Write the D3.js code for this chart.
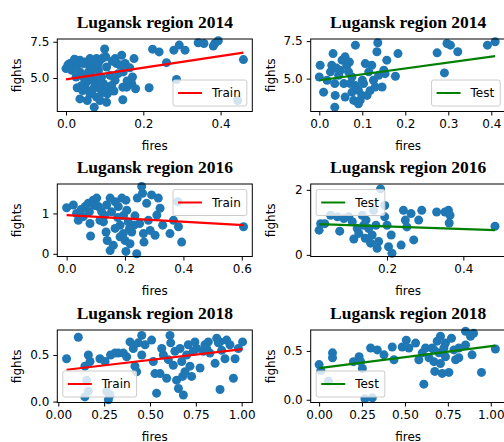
<!DOCTYPE html>
<html>
<head>
<meta charset="utf-8">
<script src="https://cdn.jsdelivr.net/npm/d3@7"></script>
<style>
body { margin: 0; background: #fff; }
text { font-family: "DejaVu Sans", sans-serif; }
</style>
</head>
<body>
<script>
// fires vs fights, Lugansk region
var train2014 = [[0.0,5.65],[0.01,6.0],[0.019,6.1],[0.028,5.88],[0.036,6.23],[0.015,5.53],[0.026,5.07],[0.029,4.33],
  [0.036,3.56],[0.055,3.45],[0.043,4.14],[0.049,6.1],[0.062,6.34],[0.071,6.23],[0.079,6.34],[0.088,6.23],[0.1,7.0],
  [0.103,6.46],[0.058,5.42],[0.069,4.84],[0.075,4.49],[0.084,5.53],[0.092,5.07],[0.097,4.6],[0.079,3.68],[0.073,2.99],
  [0.088,3.45],[0.105,3.33],[0.107,3.91],[0.105,4.37],[0.127,4.84],[0.131,6.0],[0.127,6.34],[0.144,6.57],[0.153,6.0],
  [0.148,5.42],[0.135,5.3],[0.147,4.37],[0.147,3.5],[0.157,4.37],[0.172,5.07],[0.176,6.34],[0.18,4.26],[0.17,4.6],
  [0.053,4.72],[0.045,5.07],[0.036,5.42],[0.06,5.88],[0.075,5.65],[0.105,5.76],[0.114,5.18],[0.118,4.49],[0.049,4.37],
  [0.041,4.49],[0.069,4.19],[0.088,4.26],[0.005,5.9],[0.022,6.3],[0.045,6.0],[0.066,6.05],[0.083,5.95],[0.096,6.4],
  [0.065,5.2],[0.082,4.9],[0.094,4.0],[0.062,3.9],[0.12,6.15],[0.14,5.9],[0.165,5.7],[0.158,4.8],[0.124,4.1],
  [0.215,4.33],[0.224,6.99],[0.241,6.8],[0.26,6.06],[0.279,6.92],[0.293,7.27],
  [0.308,6.92],[0.286,4.9],[0.342,7.43],[0.357,7.38],[0.381,7.2],[0.385,7.38],[0.394,7.57],[0.459,6.27],[0.444,3.45]];

var test2014 = [[0.0,5.11],[0.002,5.89],[0.01,4.1],[0.018,4.89],[0.026,5.45],[0.029,5.89],[0.032,6.67],[0.036,4.67],
  [0.037,3.88],[0.036,3.1],[0.045,5.22],[0.049,5.56],[0.053,6.23],[0.06,6.45],[0.064,5.89],[0.068,5.45],[0.057,4.67],
  [0.06,3.77],[0.072,4.67],[0.076,4.1],[0.08,3.55],[0.084,7.23],[0.084,4.55],[0.091,4.22],[0.095,3.55],[0.099,3.88],
  [0.103,4.67],[0.107,6.0],[0.111,3.88],[0.115,5.45],[0.122,5.89],[0.126,4.89],[0.13,4.44],[0.134,6.79],[0.136,7.39],
  [0.138,5.22],[0.146,4.44],[0.15,5.56],[0.157,6.23],[0.153,5.33],[0.177,5.16],[0.183,6.67],[0.091,3.33],[0.076,5.11],
  [0.04,5.7],[0.07,6.1],[0.1,4.9],[0.118,4.2],
  [0.274,6.72],[0.291,5.38],[0.297,7.34],[0.305,7.23],[0.322,6.79],[0.391,7.23],[0.409,7.46]];

var train2016 = [[0.0,1.14],[0.023,1.21],[0.034,1.0],[0.04,0.83],[0.057,0.92],[0.063,1.17],[0.074,1.25],[0.078,1.04],
  [0.08,0.75],[0.082,0.44],[0.091,1.33],[0.103,1.38],[0.109,1.17],[0.12,1.04],[0.114,0.83],[0.126,0.79],[0.137,1.21],
  [0.149,1.38],[0.154,1.04],[0.135,0.54],[0.139,0.33],[0.149,0.08],[0.16,0.21],[0.166,1.29],[0.177,1.17],[0.189,1.38],
  [0.203,1.33],[0.206,1.08],[0.183,0.71],[0.194,0.5],[0.2,0.33],[0.203,0.06],[0.217,0.25],[0.223,0.54],[0.231,0.71],
  [0.234,0.94],[0.24,0.0],[0.242,1.38],[0.257,1.67],[0.26,1.5],[0.265,0.29],[0.263,0.5],[0.28,0.83],[0.286,0.58],
  [0.291,1.46],[0.303,0.46],[0.309,0.96],[0.314,1.38],[0.32,1.13],[0.329,0.71],[0.354,0.5],[0.366,0.83],[0.381,1.29],
  [0.383,0.67],[0.394,0.29],[0.166,0.63],[0.183,0.42],[0.211,0.79],[0.274,1.25],[0.05,1.1],[0.095,1.2],[0.13,0.95],
  [0.175,0.9],[0.195,0.95],[0.215,0.62],[0.25,0.75],[0.606,0.67]];

var test2016 = [[0.022,0.76],[0.026,0.96],[0.037,0.96],[0.052,1.22],[0.07,1.17],[0.076,0.73],[0.087,1.12],[0.1,1.17],
  [0.109,1.02],[0.113,0.49],[0.122,0.81],[0.126,0.66],[0.135,1.22],[0.139,0.91],[0.143,0.51],[0.145,1.07],[0.152,0.81],
  [0.157,0.36],[0.161,0.61],[0.165,1.37],[0.171,0.91],[0.174,0.2],[0.178,0.41],[0.183,2.03],[0.194,1.52],[0.194,1.17],
  [0.2,0.91],[0.204,0.25],[0.211,0.61],[0.213,0.05],[0.237,0.3],[0.243,1.37],[0.248,1.07],[0.252,0.86],[0.263,1.27],
  [0.27,0.46],[0.283,1.07],[0.291,1.37],[0.33,1.32],[0.352,1.32],[0.361,1.37],[0.365,1.22],[0.363,0.98],[0.483,0.88]];

var train2018 = [[0.045,0.46],[0.109,0.69],[0.145,0.38],[0.164,0.5],[0.173,0.43],[0.155,0.23],[0.164,0.11],[0.145,0.05],
  [0.227,0.46],[0.255,0.43],[0.264,0.11],[0.282,0.07],[0.285,0.5],[0.273,0.02],[0.309,0.52],[0.327,0.52],[0.355,0.52],
  [0.373,0.48],[0.391,0.64],[0.409,0.57],[0.418,0.38],[0.427,0.32],[0.436,0.63],[0.455,0.71],[0.473,0.61],[0.455,0.5],
  [0.509,0.66],[0.518,0.43],[0.527,0.3],[0.536,0.09],[0.555,0.3],[0.564,0.57],[0.573,0.5],[0.591,0.25],[0.6,0.45],
  [0.609,0.71],[0.613,0.63],[0.627,0.39],[0.636,0.54],[0.645,0.23],[0.655,0.14],[0.664,0.57],[0.673,0.43],[0.678,0.27],
  [0.682,0.07],[0.691,0.32],[0.7,0.5],[0.709,0.61],[0.718,0.38],[0.727,0.27],[0.736,0.54],[0.745,0.64],[0.755,0.57],
  [0.773,0.36],[0.791,0.54],[0.8,0.61],[0.818,0.64],[0.827,0.52],[0.855,0.41],[0.864,0.68],[0.873,0.63],[0.882,0.13],
  [0.891,0.55],[0.909,0.46],[0.918,0.66],[0.936,0.61],[0.955,0.25],[0.964,0.46],[0.982,0.57],[1.005,0.64],[0.809,0.57],
  [0.882,0.64]];

var test2018 = [[0.0,0.36],[0.01,0.3],[0.054,0.19],[0.078,0.48],[0.078,0.43],[0.2,0.39],[0.233,0.44],[0.242,0.39],
  [0.252,0.32],[0.267,0.01],[0.31,0.02],[0.3,0.53],[0.339,0.51],[0.378,0.46],[0.426,0.54],[0.436,0.41],[0.484,0.54],
  [0.508,0.61],[0.523,0.53],[0.562,0.58],[0.581,0.41],[0.601,0.48],[0.61,0.16],[0.62,0.53],[0.64,0.43],[0.659,0.53],
  [0.669,0.39],[0.674,0.29],[0.688,0.6],[0.698,0.48],[0.707,0.65],[0.707,0.37],[0.717,0.27],[0.727,0.53],[0.736,0.58],
  [0.756,0.28],[0.771,0.63],[0.785,0.51],[0.795,0.41],[0.814,0.53],[0.853,0.7],[0.882,0.65],[0.891,0.46],[0.9,0.68],
  [0.946,0.28],[1.027,0.52],[0.669,0.51],[0.736,0.44],[0.814,0.43],[0.853,0.56]];

// fitted lines: [intercept, slope]
var fit2014Train = [4.91, 4.0], fit2014Test = [4.89, 3.94];
var fit2016Train = [0.96, -0.41], fit2016Test = [0.953, -0.40];
var fit2018Train = [0.331, 0.231], fit2018Test = [0.323, 0.225];

var xTicks2014L = [0, 0.2, 0.4], xTicks2014R = [0, 0.1, 0.2, 0.3, 0.4];
var xTicks2016L = [0, 0.2, 0.4, 0.6], xTicks2016R = [0.2, 0.4];
var xTicks2018 = [0, 0.25, 0.5, 0.75, 1.0];
var yTicks2014 = [5.0, 7.5], yTicks2016L = [0, 1], yTicks2016R = [0, 2], yTicks2018 = [0.0, 0.5];

var svg = d3.select("body").append("svg")
  .attr("width", 504)
  .attr("height", 442);

var colX = [57.3, 310.7], axW = 195;
var rowY = [39, 184, 330], axH = 72.5;

var panels = [
  {title: "Lugansk region 2014", data: train2014, fit: fit2014Train, col: 0, row: 0, c: "red", lab: "Train", loc: "lr",
   xd: [-0.0225, 0.482], yd: [2.69, 7.69], xt: xTicks2014L, yt: yTicks2014, xf: ".1f", yf: ".1f"},
  {title: "Lugansk region 2014", data: test2014, fit: fit2014Test, col: 1, row: 0, c: "green", lab: "Test", loc: "lr",
   xd: [-0.02, 0.4335], yd: [2.81, 7.64], xt: xTicks2014R, yt: yTicks2014, xf: ".1f", yf: ".1f"},
  {title: "Lugansk region 2016", data: train2016, fit: fit2016Train, col: 0, row: 1, c: "red", lab: "Train", loc: "ur",
   xd: [-0.032, 0.636], yd: [-0.067, 1.73], xt: xTicks2016L, yt: yTicks2016L, xf: ".1f", yf: "d"},
  {title: "Lugansk region 2016", data: test2016, fit: fit2016Test, col: 1, row: 1, c: "green", lab: "Test", loc: "ul",
   xd: [0.0, 0.511], yd: [-0.05, 2.18], xt: xTicks2016R, yt: yTicks2016R, xf: ".1f", yf: "d"},
  {title: "Lugansk region 2018", data: train2018, fit: fit2018Train, col: 0, row: 2, c: "red", lab: "Train", loc: "ll",
   xd: [-0.0055, 1.058], yd: [-0.01, 0.768], xt: xTicks2018, yt: yTicks2018, xf: ".2f", yf: ".1f"},
  {title: "Lugansk region 2018", data: test2018, fit: fit2018Test, col: 1, row: 2, c: "green", lab: "Test", loc: "ll",
   xd: [-0.049, 1.087], yd: [-0.028, 0.714], xt: xTicks2018, yt: yTicks2018, xf: ".2f", yf: ".1f"}
];

panels.forEach(function(p) {
  var x0 = colX[p.col], y0 = rowY[p.row];
  var g = svg.append("g").attr("transform", "translate(" + x0 + "," + y0 + ")");
  var x = d3.scaleLinear().domain(p.xd).range([0, axW]);
  var y = d3.scaleLinear().domain(p.yd).range([axH, 0]);

  // points
  g.selectAll("circle").data(p.data).enter().append("circle")
    .attr("cx", function(d) { return x(d[0]); })
    .attr("cy", function(d) { return y(d[1]); })
    .attr("r", 4.5)
    .style("fill", "#1f77b4");

  // regression line over the data range
  var ext = d3.extent(p.data, function(d) { return d[0]; });
  g.append("line")
    .attr("x1", x(ext[0])).attr("y1", y(p.fit[0] + p.fit[1] * ext[0]))
    .attr("x2", x(ext[1])).attr("y2", y(p.fit[0] + p.fit[1] * ext[1]))
    .attr("stroke", p.c).attr("stroke-width", 2.2);

  // axes
  var xa = g.append("g").attr("transform", "translate(0," + axH + ")")
    .call(d3.axisBottom(x).tickValues(p.xt).tickFormat(d3.format(p.xf)).tickSizeOuter(0).tickSize(4).tickPadding(4));
  var ya = g.append("g")
    .call(d3.axisLeft(y).tickValues(p.yt).tickFormat(d3.format(p.yf)).tickSizeOuter(0).tickSize(4).tickPadding(4));
  [xa, ya].forEach(function(a) {
    a.select(".domain").remove();
    a.selectAll("text").style("font-size", "12px").style("font-family", "DejaVu Sans").attr("fill", "#000");
  });

  // frame
  g.append("rect").attr("width", axW).attr("height", axH)
    .attr("fill", "none").attr("stroke", "#000").attr("stroke-width", 1);

  // labels
  svg.append("text")
    .attr("x", x0 + axW / 2).attr("y", y0 - 11)
    .attr("text-anchor", "middle")
    .style("font-family", "Liberation Serif").style("font-weight", "bold").style("font-size", "17.5px")
    .text(p.title);
  svg.append("text")
    .attr("x", x0 + axW / 2).attr("y", y0 + axH + 38)
    .attr("text-anchor", "middle").style("font-size", "12px")
    .text("fires");
  svg.append("text")
    .attr("transform", "translate(" + (x0 - 36) + "," + (y0 + axH / 2) + ") rotate(-90)")
    .attr("text-anchor", "middle").style("font-size", "12px")
    .text("fights");

  // legend
  var lg = g.append("g");
  var box = lg.append("rect").attr("rx", 2).attr("ry", 2)
    .attr("fill", "#fff").attr("fill-opacity", 0.8)
    .attr("stroke", "#ccc").attr("stroke-width", 1);
  var lt = lg.append("text").attr("x", 39).attr("y", 17).style("font-size", "12px").text(p.lab);
  lg.append("line").attr("x1", 5).attr("x2", 29).attr("y1", 13).attr("y2", 13)
    .attr("stroke", p.c).attr("stroke-width", 2);
  var bw = 39 + lt.node().getComputedTextLength() + 6, bh = 26;
  box.attr("width", bw).attr("height", bh);
  var pad = 5.5;
  var lx = p.loc.charAt(1) === "r" ? axW - pad - bw : pad;
  var ly = p.loc.charAt(0) === "l" ? axH - pad - bh : pad;
  lg.attr("transform", "translate(" + lx + "," + ly + ")");
});
</script>
</body>
</html>
